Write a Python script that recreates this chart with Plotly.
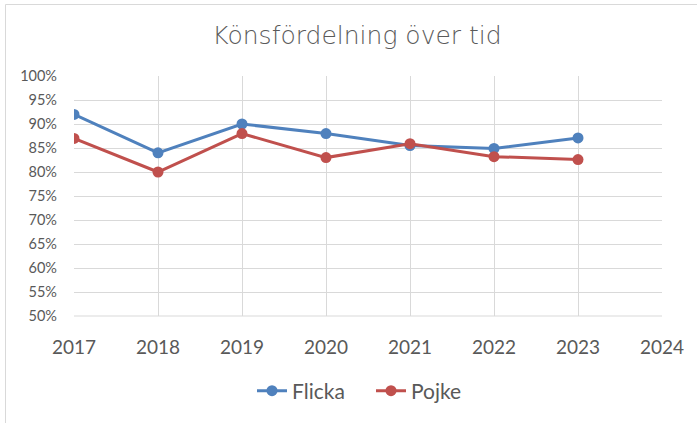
import plotly.graph_objects as go

years = [2017, 2018, 2019, 2020, 2021, 2022, 2023]
flicka = [0.92, 0.84, 0.90, 0.88, 0.855, 0.849, 0.871]
pojke = [0.87, 0.80, 0.88, 0.83, 0.859, 0.832, 0.826]
x_ticks = [2017, 2018, 2019, 2020, 2021, 2022, 2023, 2024]
title = "Könsfördelning över tid"

W, H = 697, 423
ml, mr, mt, mb = 74, 35, 76, 107

fig = go.Figure()
fig.add_trace(go.Scatter(x=years, y=flicka, name="Flicka", mode="lines+markers",
                         line=dict(color="#4F81BD", width=3),
                         marker=dict(size=11, color="#4F81BD")))
fig.add_trace(go.Scatter(x=years, y=pojke, name="Pojke", mode="lines+markers",
                         line=dict(color="#C0504D", width=3),
                         marker=dict(size=11, color="#C0504D")))

pw = W - ml - mr
ph = H - mt - mb
# outer chart border (left and top visible)
fig.add_shape(type="rect", xref="paper", yref="paper",
              x0=(5.5 - ml) / pw, x1=(W + 10 - ml) / pw,
              y0=-(mb + 10) / ph, y1=1 + (mt - 4.5) / ph,
              line=dict(color="#D9D9D9", width=1), layer="below")
# plot-area bottom edge
fig.add_shape(type="line", xref="paper", yref="paper", x0=0, x1=1, y0=0, y1=0,
              line=dict(color="#D9D9D9", width=1), layer="below")

fig.update_layout(
    width=W, height=H,
    margin=dict(l=ml, r=mr, t=mt, b=mb, autoexpand=False),
    paper_bgcolor="white", plot_bgcolor="white",
    font=dict(family="Lato, Open Sans, sans-serif", color="#595959"),
    title=dict(text=title, x=(357 - ml) / pw, xref="paper", xanchor="center",
               y=1 - 35 / H, yanchor="middle",
               font=dict(size=25, color="#5a5a5a", family="DejaVu Sans, Open Sans, sans-serif",
                         weight=200)),
    showlegend=True,
    legend=dict(orientation="h", x=(371 - ml) / pw, xref="paper", xanchor="center",
                y=-(391 - (H - mb)) / ph, yanchor="middle",
                font=dict(size=21, color="#595959", family="Lato, sans-serif"),
                entrywidth=74, tracegroupgap=0),
    xaxis=dict(range=[2017, 2024], tickvals=x_ticks, ticktext=[str(v) for v in x_ticks],
               showgrid=True, gridcolor="#D9D9D9", gridwidth=1,
               showline=False, zeroline=False, ticks="", ticklabelstandoff=18,
               tickfont=dict(size=19, color="#595959", family="Lato, sans-serif")),
    yaxis=dict(range=[0.5, 1.0], dtick=0.05, tickformat=".0%",
               showgrid=True, gridcolor="#D9D9D9", gridwidth=1,
               showline=False, zeroline=False, ticks="", ticklabelstandoff=16,
               tickfont=dict(size=14.5, color="#595959", family="Lato, sans-serif")),
)

fig.write_html("out.html", config={"displayModeBar": False},
               post_script="document.body.style.margin='0';")
